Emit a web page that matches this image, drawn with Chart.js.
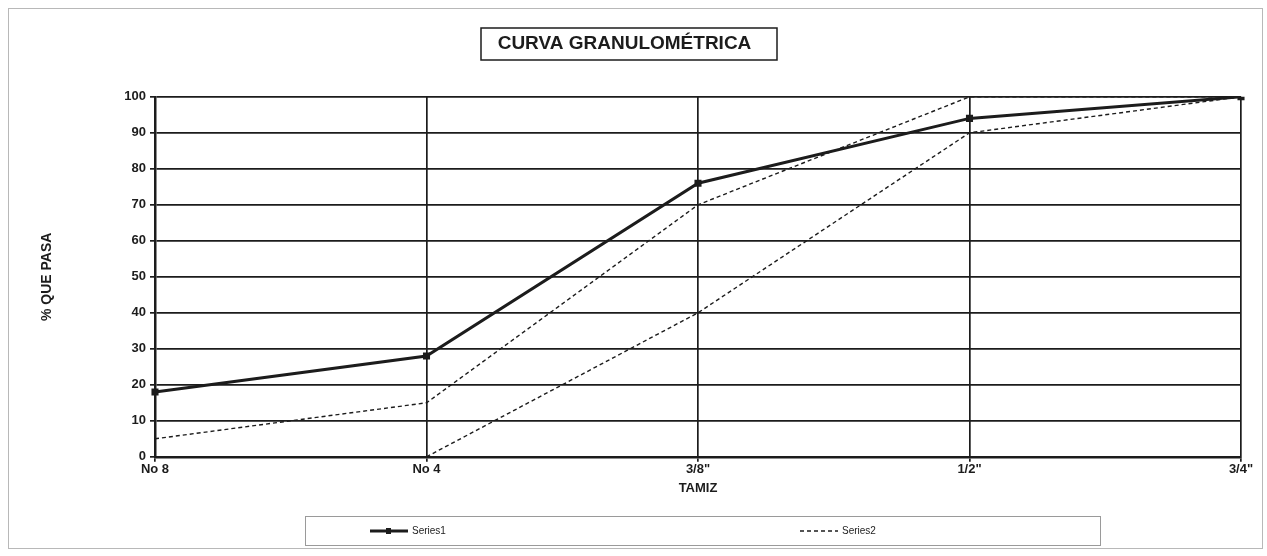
<!DOCTYPE html>
<html>
<head>
<meta charset="utf-8">
<script src="https://cdn.jsdelivr.net/npm/chart.js@4/dist/chart.umd.min.js"></script>
<style>
  html, body { margin: 0; padding: 0; background: #fff; }
  #wrap { width: 1267px; height: 556px; }
</style>
</head>
<body>
<div id="wrap"><canvas id="granChart" width="1267" height="556"></canvas></div>
<script>
// datos
const tamices = ['No 8', 'No 4', '3/8"', '1/2"', '3/4"'];
const muestra = [18, 28, 76, 94, 100];          // Series1
const limiteSuperior = [5, 15, 70, 100, 100];   // Series2 (banda superior)
const limiteInferior = [null, 0, 40, 90, 100];  // Series2 (banda inferior)
const yTicks = [0, 10, 20, 30, 40, 50, 60, 70, 80, 90, 100];

const INK = '#1c1c1c';
const FONT = "'Liberation Sans', Arial, sans-serif";

// marco exterior, recuadro del título y leyenda con borde
const decoracion = {
    id: 'decoracion',
    afterDraw(chart) {
        const ctx = chart.ctx;
        ctx.save();
        // marco del gráfico
        ctx.strokeStyle = '#b8b8b8';
        ctx.lineWidth = 1;
        ctx.strokeRect(8.5, 8.5, 1254, 540);

        // recuadro del título
        ctx.strokeStyle = INK;
        ctx.lineWidth = 1.5;
        ctx.strokeRect(481, 28, 296, 32);

        // leyenda
        ctx.strokeStyle = '#9a9a9a';
        ctx.lineWidth = 1;
        ctx.strokeRect(305.5, 516.5, 795, 29);
        const ly = 531;
        ctx.font = '10px ' + FONT;
        ctx.fillStyle = INK;
        ctx.textBaseline = 'middle';
        // Series1
        ctx.strokeStyle = INK;
        ctx.lineWidth = 3;
        ctx.beginPath(); ctx.moveTo(370, ly); ctx.lineTo(408, ly); ctx.stroke();
        ctx.fillRect(386, ly - 3, 5, 6);
        ctx.fillText(chart.data.datasets[0].label, 412, ly);
        // Series2
        ctx.lineWidth = 1.3;
        ctx.setLineDash([4, 3]);
        ctx.beginPath(); ctx.moveTo(800, ly); ctx.lineTo(838, ly); ctx.stroke();
        ctx.setLineDash([]);
        ctx.fillText(chart.data.datasets[1].label, 842, ly);
        ctx.restore();
    }
};

new Chart(document.getElementById('granChart').getContext('2d'), {
    type: 'line',
    data: {
        labels: tamices,
        datasets: [
            {
                label: 'Series1',
                data: muestra,
                borderColor: INK,
                backgroundColor: INK,
                borderWidth: 3,
                pointStyle: 'rect',
                pointRadius: 5,
                pointBorderWidth: 0,
                tension: 0,
                order: 0
            },
            {
                label: 'Series2',
                data: limiteSuperior,
                borderColor: INK,
                borderWidth: 1.4,
                borderDash: [4, 3],
                pointRadius: 0,
                tension: 0,
                order: 1
            },
            {
                label: 'Series2',
                data: limiteInferior,
                borderColor: INK,
                borderWidth: 1.4,
                borderDash: [4, 3],
                pointRadius: 0,
                tension: 0,
                order: 1
            }
        ]
    },
    options: {
        responsive: false,
        animation: false,
        layout: { padding: { left: 8, right: 26, top: 0, bottom: 60 } },
        plugins: {
            legend: { display: false },
            tooltip: { enabled: false },
            title: {
                display: true,
                text: 'CURVA GRANULOMÉTRICA',
                color: INK,
                font: { family: FONT, size: 19, weight: 'bold' },
                padding: { top: 32, bottom: 42 }
            }
        },
        scales: {
            x: {
                offset: false,
                grid: { color: INK, lineWidth: 1.7, tickLength: 5, drawTicks: true },
                border: { color: INK, width: 2.5 },
                ticks: { color: INK, font: { family: FONT, size: 13, weight: 'bold' }, padding: 0, maxRotation: 0 },
                title: {
                    display: true, text: 'TAMIZ', color: INK,
                    font: { family: FONT, size: 13, weight: 'bold' }, padding: { top: 3, bottom: 0 }
                }
            },
            y: {
                min: 0, max: 100,
                afterBuildTicks(scale) { scale.ticks = yTicks.map(v => ({ value: v })); },
                afterFit(scale) { scale.width = 147; },
                grid: { color: INK, lineWidth: 1.7, tickLength: 5 },
                border: { color: INK, width: 2.5 },
                ticks: { color: INK, font: { family: FONT, size: 13, weight: 'bold' }, padding: 4 },
                title: {
                    display: true, text: '% QUE PASA', color: INK,
                    font: { family: FONT, size: 14, weight: 'bold' }, padding: { top: 31, bottom: 0 }
                }
            }
        }
    },
    plugins: [decoracion]
});
</script>
</body>
</html>
